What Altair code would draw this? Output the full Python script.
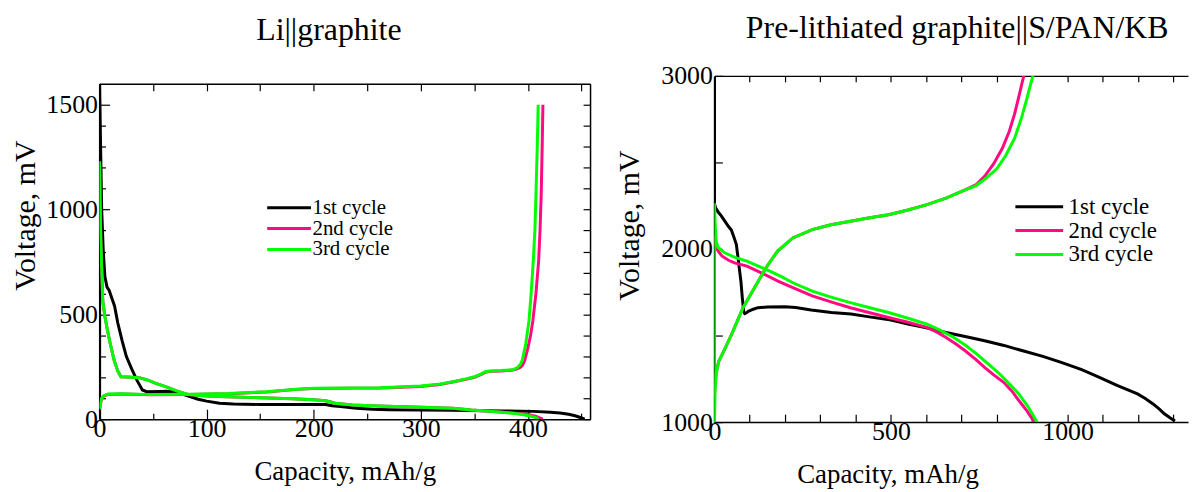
import altair as alt
import pandas as pd

FONT = "Liberation Serif"
CYCLES = ["1st cycle", "2nd cycle", "3rd cycle"]
COLORS = ["#000000", "#ff0a80", "#00ff00"]

# ---------------- Li||graphite (left panel) ----------------
L_C1_DIS_X = [0, 1, 2, 3.5, 5, 7, 9, 12, 14, 17, 21, 25, 30, 35, 40, 44, 55, 63, 70, 78,
              85, 92, 100, 112, 125, 150, 180, 211, 217, 225, 240, 255, 270, 300, 330, 360,
              378, 405, 421, 430, 438, 444, 449, 453]
L_C1_DIS_Y = [1600, 1300, 1000, 800, 680, 630, 614, 570, 540, 460, 376, 300, 240, 185, 139,
              131, 132, 133, 128, 118, 107, 95, 86, 76, 72, 70, 70, 70, 64, 60, 52, 47, 45,
              43, 42, 40, 39, 37, 33, 29, 23, 16, 8, 0]

L_C3_DIS_X = [0, 0.5, 1, 2, 3, 5, 7.4, 10, 13.6, 17, 20, 30, 37, 44.6, 52, 61.6, 72, 83, 100,
              119, 150, 180, 200, 211, 216, 220, 236, 260, 300, 330, 347, 365, 378, 390, 396,
              403, 408, 410]
L_C3_DIS_Y = [1230, 1050, 900, 720, 566, 490, 424, 360, 282, 230, 202, 200, 198, 187, 172, 155,
              135, 117, 110, 107, 102, 97, 92, 88, 82, 76, 68, 63, 57, 52, 44, 38, 32, 26, 21,
              14, 6, 0]

L_C2_DIS_X = [0, 0.5, 1, 2, 3, 5, 7.4, 10, 13.6, 17, 20, 30, 37, 44.6, 52, 61.6, 72, 83, 100,
              119, 150, 180, 200, 211, 216, 220, 236, 260, 300, 330, 347, 365, 380, 393, 401,
              407, 411, 414]
L_C2_DIS_Y = [1230, 1050, 900, 720, 566, 490, 424, 360, 282, 230, 202, 200, 198, 187, 172, 155,
              135, 117, 110, 107, 102, 97, 92, 88, 82, 76, 68, 63, 57, 52, 44, 38, 32, 26, 21,
              14, 6, 0]

L_C3_CHG_X = [0, 1, 2, 4, 8, 20, 49, 85, 120, 136, 156, 184, 200, 236, 262, 300, 316, 331, 342,
              350, 356, 360, 365, 375, 386, 390, 393, 394.7, 398, 401, 403, 405, 406.5, 407.5,
              408.7, 409.6]
L_C3_CHG_Y = [50, 80, 100, 112, 120, 121, 117, 119, 122, 126, 131, 143, 147, 149, 150, 158, 166,
              180, 192, 202, 215, 226, 230, 232, 236, 245, 262, 280, 360, 470, 600, 755, 900,
              1072, 1300, 1500]

L_C2_CHG_X = [0, 1, 2, 4, 8, 20, 49, 85, 120, 136, 156, 184, 200, 236, 262, 300, 316, 331, 342,
              350, 356, 360, 365, 375, 386, 390, 393, 395, 397, 400, 402.5, 404.6, 407.5, 410,
              411.3, 412.4, 413.3, 414]
L_C2_CHG_Y = [45, 75, 98, 110, 118, 120, 116, 118, 121, 125, 130, 142, 146, 148, 149, 156, 164,
              178, 190, 200, 212, 223, 228, 230, 234, 240, 248, 258, 280, 340, 400, 470, 600,
              755, 900, 1072, 1300, 1500]

# ---------------- Pre-lithiated graphite||S/PAN/KB (right panel) ----------------
R_C1_DIS_X = [0, 0, 3, 10, 20, 30, 40, 48, 55, 62, 67, 71, 75, 79, 83, 86, 90, 96, 110, 123,
              150, 199, 230, 274, 331, 387, 439, 500, 548, 600, 656, 710, 765, 820, 873, 930,
              982, 1040, 1090, 1140, 1198, 1220, 1242, 1260, 1274, 1290, 1304]
R_C1_DIS_Y = [2563, 2264, 2240, 2215, 2190, 2160, 2130, 2110, 2070, 2027, 1948, 1880, 1814,
              1718, 1640, 1627, 1630, 1640, 1652, 1661, 1665, 1667, 1662, 1648, 1633, 1625,
              1608, 1590, 1566, 1545, 1518, 1495, 1470, 1443, 1412, 1380, 1345, 1303, 1259,
              1212, 1163, 1136, 1105, 1075, 1048, 1025, 1006]

R_C2_DIS_X = [0, 2, 5, 10, 21, 40, 57, 92, 133, 180, 222, 277, 330, 385, 440, 493, 548, 602,
              630, 656, 685, 710, 740, 765, 790, 819, 842, 862, 885, 906]
R_C2_DIS_Y = [2080, 2040, 2016, 1990, 1960, 1935, 1920, 1901, 1862, 1815, 1777, 1729, 1695,
              1661, 1632, 1604, 1577, 1547, 1520, 1489, 1450, 1412, 1362, 1316, 1274, 1230,
              1180, 1125, 1065, 1000]

R_C3_DIS_X = [0, 0, 2, 5, 10, 29, 60, 92, 146, 190, 222, 277, 330, 385, 440, 493, 548, 602,
              640, 678, 710, 743, 775, 808, 835, 862, 888, 911, 915]
R_C3_DIS_Y = [1000, 2264, 2150, 2045, 2010, 1978, 1950, 1930, 1882, 1840, 1805, 1757, 1722,
              1690, 1661, 1633, 1600, 1566, 1530, 1489, 1445, 1393, 1336, 1278, 1222, 1163,
              1090, 1010, 1000]

R_C2_CHG_X = [0, 2, 5, 12, 27, 49, 81, 114, 146, 179, 222, 277, 330, 385, 440, 493, 548, 602,
              656, 710, 740, 765, 790, 815, 835, 850, 862, 870, 876]
R_C2_CHG_Y = [1150, 1220, 1285, 1350, 1412, 1508, 1661, 1777, 1892, 1988, 2064, 2112, 2140,
              2160, 2180, 2198, 2225, 2256, 2294, 2342, 2370, 2420, 2490, 2580, 2680, 2780,
              2880, 2950, 3000]

R_C3_CHG_X = [0, 2, 5, 12, 27, 49, 81, 114, 146, 179, 222, 277, 330, 385, 440, 493, 548, 602,
              656, 710, 740, 770, 800, 825, 850, 870, 885, 895, 902]
R_C3_CHG_Y = [1000, 1180, 1278, 1350, 1412, 1508, 1661, 1777, 1892, 1988, 2064, 2112, 2140,
              2160, 2180, 2198, 2225, 2256, 2294, 2342, 2365, 2410, 2465, 2540, 2640, 2760,
              2870, 2950, 3000]

# tick values
L_X_MAJOR = [0, 100, 200, 300, 400]
L_X_MINOR = [50, 150, 250, 350, 450]
L_X_TOP = [0, 50, 100, 150, 200, 250, 300, 350, 400, 450]
L_Y_MAJOR = [0, 500, 1000, 1500]
L_Y_MINOR = [100, 200, 300, 400, 600, 700, 800, 900, 1100, 1200, 1300, 1400]
L_Y_RIGHT = [0, 100, 200, 300, 400, 500, 600, 700, 800, 900, 1000, 1100, 1200, 1300, 1400, 1500]
R_X_TICKS = [0, 100, 200, 300, 400, 500, 600, 700, 800, 900, 1000, 1100, 1200, 1300]
R_Y_TICKS = [1000, 1500, 2000, 2500, 3000]


def build(segments):
    rows = []
    for seg_id, (cyc, xs, ys) in enumerate(segments):
        for i, (x, y) in enumerate(zip(xs, ys)):
            rows.append({"cap": x, "volt": y, "cycle": cyc, "seg": seg_id, "idx": i})
    return pd.DataFrame(rows)


left_df = build([
    ("1st cycle", L_C1_DIS_X, L_C1_DIS_Y),
    ("2nd cycle", L_C2_DIS_X, L_C2_DIS_Y),
    ("2nd cycle", L_C2_CHG_X, L_C2_CHG_Y),
    ("3rd cycle", L_C3_DIS_X, L_C3_DIS_Y),
    ("3rd cycle", L_C3_CHG_X, L_C3_CHG_Y),
])
right_df = build([
    ("1st cycle", R_C1_DIS_X, R_C1_DIS_Y),
    ("2nd cycle", R_C2_DIS_X, R_C2_DIS_Y),
    ("2nd cycle", R_C2_CHG_X, R_C2_CHG_Y),
    ("3rd cycle", R_C3_DIS_X, R_C3_DIS_Y),
    ("3rd cycle", R_C3_CHG_X, R_C3_CHG_Y),
])


def ax(**kw):
    base = dict(domain=False, grid=False, tickColor="black", tickWidth=1.2,
                domainColor="black", domainWidth=1.5, minExtent=0,
                labelFont=FONT, labelColor="black", labelFlush=False, labelOverlap=False,
                titleFont=FONT, titleColor="black", titleFontWeight="normal", format="d")
    base.update(kw)
    return alt.Axis(**base)


def ticks_ax(orient, values, size, offset):
    return ax(orient=orient, values=values, tickSize=size, offset=offset, labels=False)


def frame_ax(orient, offset, width=1.5):
    return ax(orient=orient, offset=offset, domain=True, ticks=False, labels=False,
              domainWidth=width, values=[0])


def legend(x, y, size, fs, off, rowpad):
    return alt.Legend(orient="none", legendX=x, legendY=y, title=None,
                      symbolType="M-4,0H4", symbolSize=size, symbolStrokeWidth=3,
                      labelFont=FONT, labelFontSize=fs, labelColor="black",
                      labelOffset=off, rowPadding=rowpad, padding=0)


def enc_x(xs, a):
    if a is None:
        return alt.X("cap:Q", scale=xs, axis=None)
    d = a.to_dict()
    return alt.X("cap:Q", scale=xs, axis=a, title=d["title"] if "title" in d else None)


def enc_y(ys, a):
    if a is None:
        return alt.Y("volt:Q", scale=ys, axis=None)
    d = a.to_dict()
    return alt.Y("volt:Q", scale=ys, axis=a, title=d["title"] if "title" in d else None)


def panel(df, xs, ys, w, h, title, tdx, toff, layers, leg):
    charts = []
    for k, (xa, ya) in enumerate(layers):
        if k == 0:
            c = alt.Chart(df).mark_line(strokeWidth=3, clip=True).encode(
                x=enc_x(xs, xa), y=enc_y(ys, ya),
                color=alt.Color("cycle:N", scale=alt.Scale(domain=CYCLES, range=COLORS),
                                legend=leg),
                detail="seg:N", order="idx:Q")
        else:
            c = alt.Chart(df).mark_line(opacity=0, clip=True).encode(
                x=enc_x(xs, xa), y=enc_y(ys, ya), detail="seg:N", order="idx:Q")
        charts.append(c)
    return alt.layer(*charts).resolve_axis(x="independent", y="independent").properties(
        width=w, height=h,
        title=alt.TitleParams(title, font=FONT, fontSize=32, fontWeight="normal",
                              color="black", anchor="middle", dx=tdx, offset=toff,
                              baseline="alphabetic"))


# left panel: group spans 345 px tall; the frame starts 8 px below the group top
L_H = 345
left_xs = alt.Scale(domain=[0, 458], nice=False, zero=False)
left_ys = alt.Scale(domain=[0, 1600], nice=False, zero=False, range=[L_H, 8])

left_layers = [
    (ax(orient="bottom", values=L_X_MAJOR, tickSize=10, offset=-10, labelPadding=-4,
        labelFontSize=26, title="Capacity, mAh/g", titleFontSize=27,
        titleBaseline="alphabetic", titleY=71),
     ax(orient="left", values=L_Y_MAJOR, tickSize=10, offset=-10, labelPadding=2,
        labelFontSize=26, title="Voltage, mV", titleFontSize=30,
        titleBaseline="alphabetic", titleX=-75, titleY=140)),
    (ticks_ax("bottom", L_X_MINOR, 6, -6), ticks_ax("left", L_Y_MINOR, 6, -6)),
    (ticks_ax("top", L_X_TOP, 7, -15), ticks_ax("right", L_Y_RIGHT, 7, -7)),
    (frame_ax("bottom", 0), frame_ax("left", 0, 2.2)),
    (frame_ax("top", -8), frame_ax("right", 0)),
]

R_H = 348
right_xs = alt.Scale(domain=[0, 1341], nice=False, zero=False)
right_ys = alt.Scale(domain=[1000, 3000], nice=False, zero=False)

right_layers = [
    (ax(orient="bottom", values=R_X_TICKS, tickSize=8, offset=-8, labelPadding=-4,
        labelFontSize=26, labelExpr="datum.value % 500 == 0 ? datum.label : ''",
        title="Capacity, mAh/g", titleFontSize=27, titleBaseline="alphabetic",
        titleY=69, titleX=174),
     ax(orient="left", values=R_Y_TICKS, tickSize=8, offset=-8, labelPadding=2,
        labelFontSize=26, labelExpr="datum.value % 1000 == 0 ? datum.label : ''",
        title="Voltage, mV", titleFontSize=30, titleBaseline="alphabetic",
        titleX=-84, titleY=150)),
    (ticks_ax("top", R_X_TICKS, 6, -6), None),
    (frame_ax("bottom", 0), frame_ax("left", 0, 2.2)),
    (frame_ax("top", 0), None),
]

left = panel(left_df, left_xs, left_ys, 493, L_H, "Li||graphite", -16, 4,
             left_layers, legend(180, 122, 121, 21, 13, -6))
right = panel(right_df, right_xs, right_ys, 476, R_H,
              "Pre-lithiated graphite||S/PAN/KB", 6, -7,
              right_layers, legend(315, 120, 144, 23, 18, 0))

chart = alt.hconcat(left, right, spacing=22).resolve_scale(
    color="independent").resolve_legend(color="independent").properties(
    padding={"left": 2, "top": 2, "right": 0, "bottom": 0},
    background="white").configure_view(stroke="transparent")

chart.save("out.html", embed_options={"renderer": "svg", "actions": False})
